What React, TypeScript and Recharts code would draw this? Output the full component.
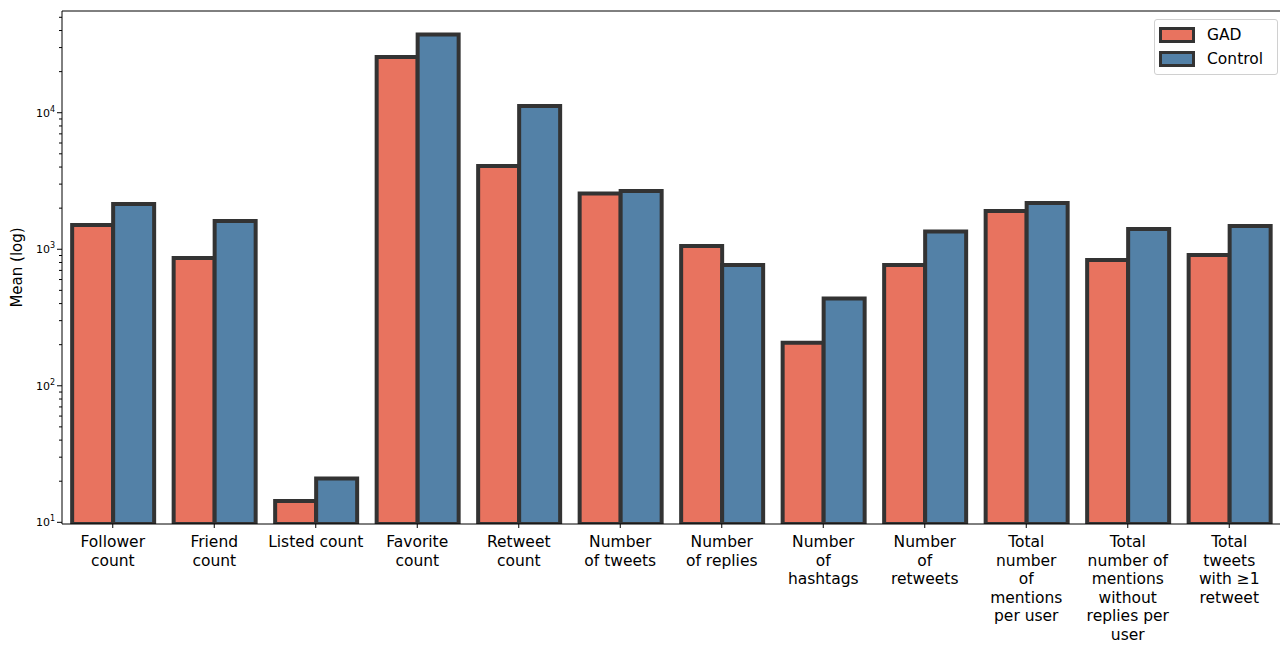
import { Bar, BarChart, ReferenceLine, XAxis, YAxis } from "recharts";

const categories = [
  "Follower\ncount",
  "Friend\ncount",
  "Listed count",
  "Favorite\ncount",
  "Retweet\ncount",
  "Number\nof tweets",
  "Number\nof replies",
  "Number\nof\nhashtags",
  "Number\nof\nretweets",
  "Total\nnumber\nof\nmentions\nper user",
  "Total\nnumber of\nmentions\nwithout\nreplies per\nuser",
  "Total\ntweets\nwith ≥1\nretweet",
];
const gadMeans = [1503, 863, 14.3, 25600, 4070, 2560, 1055, 207, 766, 1905, 834, 907];
const controlMeans = [2143, 1610, 20.9, 37400, 11200, 2670, 766, 435, 1349, 2180, 1406, 1479];
const majorTicks = [10, 100, 1000, 10000];
const minorTicks = [
  20, 30, 40, 50, 60, 70, 80, 90,
  200, 300, 400, 500, 600, 700, 800, 900,
  2000, 3000, 4000, 5000, 6000, 7000, 8000, 9000,
  20000, 30000, 40000, 50000,
];
const Y_MIN = 9.72;
const Y_MAX = 55600;

const GAD_COLOR = "#e8735f";
const CONTROL_COLOR = "#5381a7";
const EDGE = "#333333";
const FONT = "'DejaVu Sans', sans-serif";

const data = categories.map((c, i) => ({
  name: c,
  gad: gadMeans[i],
  control: controlMeans[i],
}));

function YTick({ x, y, payload }: any) {
  const v = payload.value as number;
  const major = majorTicks.includes(v);
  const len = major ? 5 : 3;
  return (
    <g>
      <line x1={x - len} x2={x} y1={y} y2={y} stroke="#000" strokeWidth={1} />
      {major && (
        <text x={x - len - 2} y={y + 4} textAnchor="end" fontFamily={FONT} fontSize={11} fill="#000">
          <tspan>10</tspan>
          <tspan dy={-5} fontSize={8}>
            {Math.round(Math.log10(v))}
          </tspan>
        </text>
      )}
    </g>
  );
}

function XTick({ x, y, payload }: any) {
  const lines = String(payload.value).split("\n");
  return (
    <text x={x} y={y + 17} textAnchor="middle" fontFamily={FONT} fontSize={15.5} fill="#000">
      {lines.map((l, i) => (
        <tspan key={i} x={x} dy={i === 0 ? 0 : 18.5}>
          {l}
        </tspan>
      ))}
    </text>
  );
}

function LegendBox() {
  const row = (label: string, color: string) => (
    <div style={{ display: "flex", alignItems: "center", height: 24 }}>
      <div
        style={{
          width: 30,
          height: 10,
          background: color,
          border: `3px solid ${EDGE}`,
          marginRight: 12,
        }}
      />
      <span style={{ fontFamily: FONT, fontSize: 15.5, color: "#000" }}>{label}</span>
    </div>
  );
  return (
    <div
      style={{
        position: "absolute",
        left: 1154,
        top: 19,
        border: "1px solid #d0d0d0",
        borderRadius: 3,
        background: "#fff",
        padding: "3px 6px 3px 4px",
        width: 112,
      }}
    >
      {row("GAD", GAD_COLOR)}
      {row("Control", CONTROL_COLOR)}
    </div>
  );
}

export default function App() {
  return (
    <div style={{ position: "absolute", left: 0, top: 0, width: 1284, height: 646, background: "#fff" }}>
      <BarChart
        width={1284}
        height={646}
        data={data}
        margin={{ top: 11, right: 4, bottom: 0, left: 0 }}
        barCategoryGap="10%"
        barGap={0}
      >
        <XAxis
          dataKey="name"
          height={122}
          interval={0}
          tick={<XTick />}
          tickSize={4}
          tickLine={{ stroke: "#000" }}
          axisLine={{ stroke: "#000" }}
        />
        <YAxis
          scale="log"
          domain={[Y_MIN, Y_MAX]}
          allowDataOverflow
          ticks={[...majorTicks, ...minorTicks].sort((a, b) => a - b)}
          interval={0}
          width={62}
          tickSize={0}
          tickMargin={0}
          tickLine={false}
          tick={<YTick />}
          axisLine={{ stroke: "#000" }}
          label={{
            value: "Mean (log)",
            angle: -90,
            position: "insideLeft",
            offset: 17,
            style: { fontFamily: FONT, fontSize: 15, fill: "#000", textAnchor: "middle" },
          }}
        />
        <YAxis yAxisId="right" orientation="right" width={0} tick={false} tickLine={false} axisLine={{ stroke: "#000" }} />
        <ReferenceLine y={Y_MAX} stroke="#000" strokeWidth={1} ifOverflow="visible" />
        <Bar dataKey="gad" name="GAD" fill={GAD_COLOR} stroke={EDGE} strokeWidth={4} isAnimationActive={false} />
        <Bar dataKey="control" name="Control" fill={CONTROL_COLOR} stroke={EDGE} strokeWidth={4} isAnimationActive={false} />
      </BarChart>
      <LegendBox />
    </div>
  );
}
